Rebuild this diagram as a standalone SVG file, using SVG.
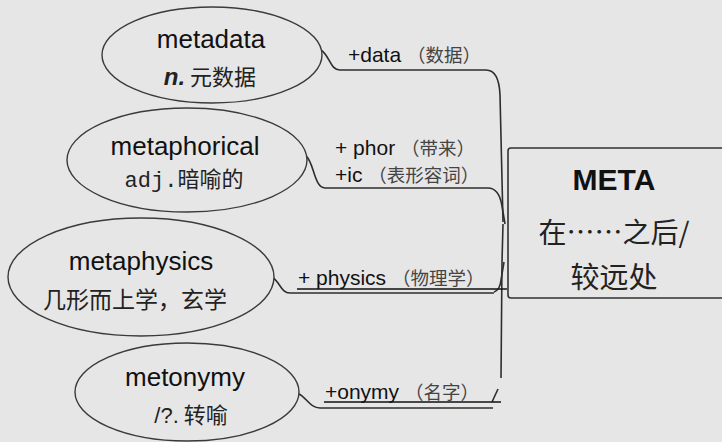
<svg xmlns="http://www.w3.org/2000/svg" width="722" height="442" viewBox="0 0 722 442">
<style>
.bg{fill:#e6e6e6}
.node{fill:#e6e6e6;stroke:#3a3a3a;stroke-width:1.4}
.t{font-family:"Liberation Sans",Arial,sans-serif;font-size:26px;fill:#111;text-anchor:middle}
.cn{font-family:"Noto Sans CJK SC",sans-serif;font-size:22px;fill:#222;text-anchor:middle}
.mono{font-family:"Liberation Mono",monospace}
.lbl{font-family:"Liberation Sans",Arial,sans-serif;font-size:21px;fill:#111}
.lcn{font-family:"Noto Sans CJK SC",sans-serif;font-size:18.5px;fill:#444}
.c{fill:none;stroke:#2e2e2e;stroke-width:1.6}
.ul{stroke:#111;stroke-width:1.4}
</style>
<rect class="bg" x="0" y="0" width="722" height="442"/>
<g id="connectors">
<path class="c" d="M321,50 C330,56 330,70 340,70 L486,70 Q499,70 500,95 L503,222"/>
<path class="c" d="M306,156 C314,162 314,188 325,188 L488,188 Q499,188 502,206 L505,224"/>
<path class="c" d="M273,278 C280,282 281,293 290,293 L494,293"/>
<path class="c" d="M494,292 Q500,290 501,280 L504,262"/>
<path class="c" d="M503,224 L502,262 M502,262 L501,378"/>
<path class="c" d="M299,394 C307,398 310,408 320,408 L493,408"/>
<path class="c" d="M492,402 L498,389"/>
<line class="ul" x1="297" y1="289" x2="507" y2="289"/>
<line class="ul" x1="324" y1="402" x2="501" y2="402"/>
</g>
<g id="meta">
<rect x="508" y="148" width="222" height="150" rx="3" fill="#e6e6e6" stroke="#333" stroke-width="1.6"/>
<text x="614" y="190" class="t" style="font-weight:bold;font-size:30px">META</text>
<text x="614" y="243" class="cn" style="font-size:28px">在……之后/</text>
<text x="614" y="288" class="cn" style="font-size:29px">较远处</text>
</g>
<g id="metadata">
<ellipse class="node" cx="212" cy="55" rx="110" ry="48"/>
<text x="211" y="48" class="t">metadata</text>
<text x="210" y="85" class="cn"><tspan style="font-family:'Liberation Sans',Arial,sans-serif;font-style:italic;font-weight:bold;font-size:24px">n.</tspan> 元数据</text>
</g>
<g id="metaphorical">
<ellipse class="node" cx="187" cy="160" rx="120" ry="52"/>
<text x="185" y="155" class="t">metaphorical</text>
<text x="184" y="187" class="cn"><tspan class="mono">adj.</tspan>暗喻的</text>
</g>
<g id="metaphysics">
<ellipse class="node" cx="141" cy="277" rx="133" ry="59"/>
<text x="141" y="270" class="t">metaphysics</text>
<text x="135" y="308" class="cn" style="font-size:23px">几形而上学，玄学</text>
</g>
<g id="metonymy">
<ellipse class="node" cx="187" cy="392" rx="112" ry="49"/>
<text x="185" y="386" class="t">metonymy</text>
<text x="191" y="423" class="cn"><tspan style="font-family:'Liberation Sans',Arial,sans-serif">/?.</tspan> 转喻</text>
</g>
<g id="labels">
<text x="348" y="62" class="lbl">+data <tspan class="lcn">（数据）</tspan></text>
<text x="335" y="155" class="lbl">+ phor <tspan class="lcn">（带来）</tspan></text>
<text x="335" y="182" class="lbl">+ic <tspan class="lcn">（表形容词）</tspan></text>
<text x="298" y="285" class="lbl">+ physics <tspan class="lcn">（物理学）</tspan></text>
<text x="325" y="399" class="lbl">+onymy <tspan class="lcn">（名字）</tspan></text>
</g>
</svg>
